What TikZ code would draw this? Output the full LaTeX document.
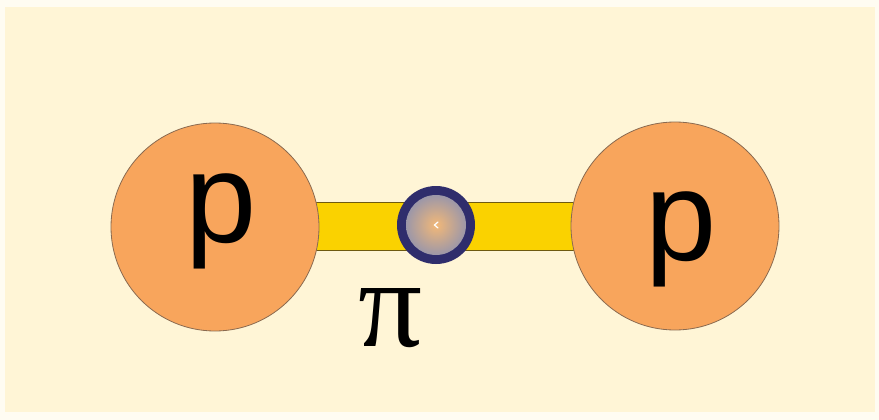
\documentclass[tikz,border=0pt]{standalone}
\usepackage{fontspec}
\setsansfont{Liberation Sans}
\newfontfamily\greekserif{Liberation Serif}
\usetikzlibrary{backgrounds}
\definecolor{pagewhite}{HTML}{FFFCF2}
\definecolor{cream}{HTML}{FFF5D6}
\definecolor{protonorange}{HTML}{F8A55C}
\definecolor{protonedge}{HTML}{8A6A50}
\definecolor{baryellow}{HTML}{FAD200}
\definecolor{baredge}{HTML}{6E5A10}
\definecolor{pionnavy}{HTML}{2F2D6C}
\definecolor{pionmid}{HTML}{9C97A8}
\definecolor{pioncore}{HTML}{F2B878}
\tikzset{
  proton/.style={circle, fill=protonorange, draw=protonedge, line width=0.8pt,
    minimum size=208pt, inner sep=0pt},
  plabel/.style={font=\sffamily\fontsize{128}{128}\selectfont, anchor=base, inner sep=0pt},
  pionbody/.style={circle, fill=pionnavy, minimum size=78pt, inner sep=0pt},
  bond/.style={fill=baryellow, draw=baredge, line width=0.8pt}
}
\begin{document}
\begin{tikzpicture}[x=1pt,y=-1pt]
  \useasboundingbox (0,0) rectangle (879,420);
  \node[proton] (p1) at (215,227) {};
  \node[proton] (p2) at (675,226) {};
  \node[plabel] (l1) at (221,242) {p};
  \node[plabel] (l2) at (681,260) {p};
  \begin{scope}[on background layer]
    \fill[pagewhite] (0,0) rectangle (879,420);
    \fill[cream] (5,7) rectangle (875,412);
    \draw[bond] ([yshift=-23.5pt]p1.center) rectangle ([yshift=23.5pt]p2.center);
  \end{scope}
  \node[pionbody] (pi) at (436,225) {};
  \shade[inner color=pioncore, outer color=pionmid] (pi.center) circle[radius=30pt];
  \draw[white, line width=1.2pt, line cap=round] ([xshift=2pt,yshift=-3pt]pi.center) -- ([xshift=-1.5pt]pi.center) -- ([xshift=2pt,yshift=3pt]pi.center);
  \node[inner sep=0pt] (pilabel) at (391,318) {\resizebox{64pt}{58pt}{\greekserif π}};
\end{tikzpicture}
\end{document}
